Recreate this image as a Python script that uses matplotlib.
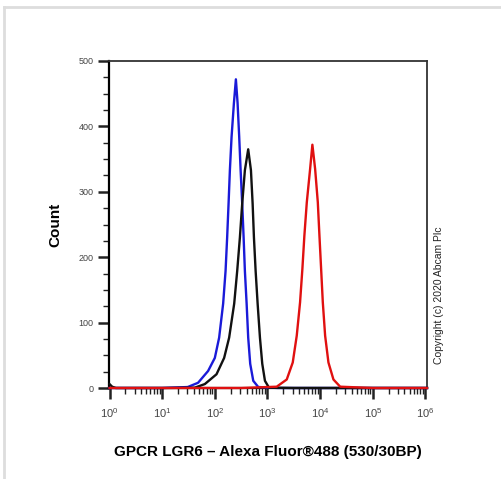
import matplotlib
matplotlib.use("Agg")
import matplotlib.pyplot as plt
from matplotlib.lines import Line2D
from matplotlib.ticker import FixedLocator, MultipleLocator, NullFormatter
import numpy as np

plt.rcParams['font.family'] = ['Liberation Sans', 'DejaVu Sans']
plt.rcParams['mathtext.fontset'] = 'custom'
plt.rcParams['mathtext.rm'] = 'Liberation Sans'
plt.rcParams['mathtext.it'] = 'Liberation Sans'
plt.rcParams['mathtext.default'] = 'regular'

# --- histogram outlines (log10 intensity, count) ---
blue_log = [0.0, 1.0, 1.486, 1.682, 1.872, 2.0, 2.082, 2.158, 2.204, 2.234, 2.261, 2.286,
            2.318, 2.362, 2.40, 2.432, 2.463, 2.490, 2.520, 2.547, 2.571, 2.604,
            2.634, 2.672, 2.730, 2.825, 3.2, 6.03]
blue_cnt = [0, 0, 1.5, 8, 26, 46, 77, 129, 179, 230, 282, 333,
            384, 435, 472, 436, 384, 333, 282, 230, 179, 129,
            77, 37, 11, 1.5, 0, 0]

black_log = [0.0, 0.05, 0.12, 1.0, 1.619, 1.810, 2.032, 2.177, 2.272, 2.368, 2.425, 2.476,
             2.520, 2.571, 2.634, 2.686, 2.718, 2.743, 2.775, 2.813, 2.857,
             2.901, 2.952, 3.029, 3.5, 6.03]
black_cnt = [6, 2, 0, 0, 0.5, 6, 21, 46, 77, 129, 179, 230,
             282, 333, 365, 333, 282, 230, 179, 129, 77,
             37, 11, 0.5, 0, 0]

red_log = [0.0, 2.5, 3.175, 3.366, 3.480, 3.556, 3.619, 3.663, 3.701, 3.747, 3.810,
           3.853, 3.905, 3.956, 3.987, 4.019, 4.051, 4.095, 4.158, 4.253,
           4.381, 5.0, 6.03]
red_cnt = [0, 0, 2, 13, 39, 80, 131, 182, 233, 284, 335,
           372, 335, 284, 233, 182, 131, 80, 39, 13,
           2, 0, 0]

x_decades = [0, 1, 2, 3, 4, 5, 6]
y_ticks = [0, 100, 200, 300, 400, 500]
x_label = "GPCR LGR6 \u2013 Alexa Fluor\u00ae488 (530/30BP)"
y_label = "Count"
copyright_text = "Copyright (c) 2020 Abcam Plc"

fig = plt.figure(figsize=(5.02, 4.79), dpi=100)
ax = fig.add_axes([109 / 502, 1 - 388 / 479, 318 / 502, 327 / 479])

for xs, ys, col in [(blue_log, blue_cnt, '#1a1ad8'),
                    (black_log, black_cnt, '#111111'),
                    (red_log, red_cnt, '#e01010')]:
    ax.plot(10 ** np.array(xs), ys, color=col, lw=1.7, clip_on=False, zorder=3,
            solid_joinstyle='round')

ax.set_xscale('log')
ax.set_xlim(10 ** -0.01, 10 ** 6.03)
ax.set_ylim(0, 500)

major_x = [10.0 ** d for d in x_decades]
minor_x = [m * 10.0 ** d for d in x_decades[:-1] for m in range(2, 10)]
ax.xaxis.set_major_locator(FixedLocator(major_x))
ax.xaxis.set_minor_locator(FixedLocator(minor_x))
ax.set_xticklabels(['$10^{%d}$' % d for d in x_decades])
ax.xaxis.set_minor_formatter(NullFormatter())
ax.set_yticks(y_ticks)
ax.yaxis.set_minor_locator(MultipleLocator(25))

ax.tick_params(axis='both', which='major', direction='out', length=8, width=1.8,
               colors='#222222', labelcolor='#444444')
ax.tick_params(axis='both', which='minor', direction='out', length=4, width=1.0,
               colors='#222222')
ax.tick_params(axis='x', which='major', pad=5, labelsize=8)
ax.tick_params(axis='y', which='major', labelsize=6.5, pad=3)

for side in ['left', 'bottom']:
    ax.spines[side].set_linewidth(1.6)
for side in ['top', 'right']:
    ax.spines[side].set_linewidth(1.3)
    ax.spines[side].set_color('#333333')

fig.text(55 / 502, 1 - 225 / 479, y_label, rotation=90, ha='center', va='center',
         fontsize=11, fontweight='bold')
fig.text(268 / 502, 1 - 452 / 479, x_label, ha='center', va='center',
         fontsize=11, fontweight='bold')
fig.text(439 / 502, 1 - 295 / 479, copyright_text, rotation=90, ha='center',
         va='center', fontsize=7.5, color='#222222')

# light gray frame around the picture (top and left edges)
fig.add_artist(Line2D([4 / 502, 1], [1 - 7 / 479, 1 - 7 / 479], color='#dddddd', lw=2))
fig.add_artist(Line2D([4 / 502, 4 / 502], [0, 1 - 7 / 479], color='#dddddd', lw=2))

fig.savefig('out.png', dpi=100)
